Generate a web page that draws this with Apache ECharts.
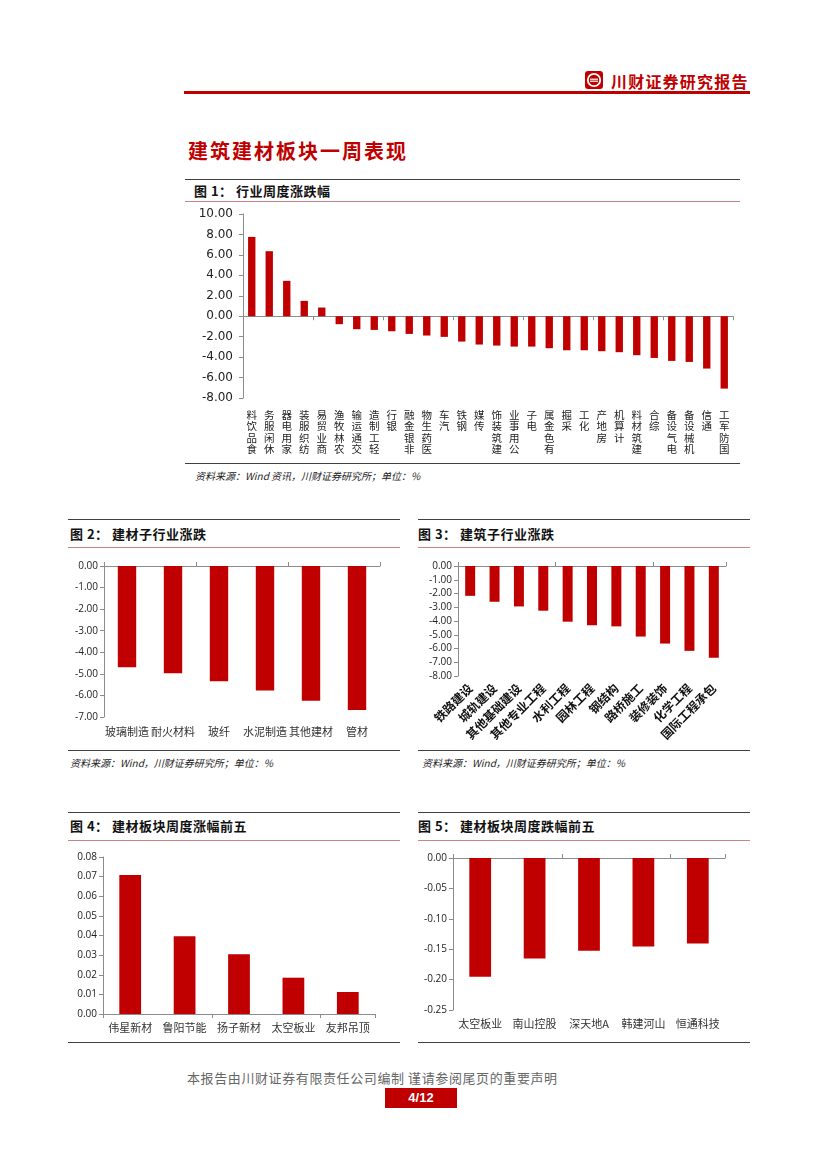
<!DOCTYPE html>
<html><head><meta charset="utf-8">
<script src="https://cdn.jsdelivr.net/npm/echarts@6/dist/echarts.min.js"></script>
<style>
html,body{margin:0;padding:0;background:#fff;}
body{width:827px;height:1169px;position:relative;overflow:hidden;font-family:"Noto Sans CJK SC","Noto Sans",sans-serif;}
.abs{position:absolute;}
.hline{position:absolute;height:0;}
.dark{border-top:1.5px solid #404040;}
.pink{border-top:1.5px solid #c98585;}
.ttl{position:absolute;font-size:13px;font-weight:bold;color:#111;white-space:nowrap;line-height:16px;letter-spacing:0.5px;}
.src{position:absolute;font-size:10px;font-style:italic;color:#222;white-space:nowrap;line-height:12px;}
.chart{position:absolute;}
</style></head>
<body>
<!-- header -->
<svg class="abs" style="left:585px;top:71px" width="18" height="18" viewBox="0 0 18 18">
<rect x="0" y="0" width="18" height="18" rx="3" fill="#c00000"/>
<circle cx="9" cy="9" r="6.2" fill="none" stroke="#fff" stroke-width="1.8"/>
<rect x="5" y="7.6" width="8" height="1.2" fill="#fff"/>
<rect x="5" y="9.6" width="8" height="1.2" fill="#fff"/>
</svg>
<div class="abs" style="left:611px;top:69px;font-size:16px;letter-spacing:1.2px;color:#c00000;font-weight:bold;white-space:nowrap;">川财证券研究报告</div>
<div class="abs" style="left:184px;top:91px;width:566px;height:3px;background:#c00000;"></div>

<div class="abs" style="left:188px;top:136px;font-size:20px;letter-spacing:2px;color:#c00000;font-weight:bold;white-space:nowrap;">建筑建材板块一周表现</div>

<!-- figure 1 -->
<div class="hline dark" style="left:185px;top:179px;width:555px;"></div>
<div class="ttl" style="left:194px;top:183px;">图 1：&nbsp;行业周度涨跌幅</div>
<div class="hline pink" style="left:185px;top:201px;width:555px;"></div>
<div id="c1" class="chart" style="left:180px;top:204px;width:560px;height:258px;"></div>
<div class="hline dark" style="left:185px;top:463px;width:555px;"></div>
<div class="src" style="left:195px;top:470px;">资料来源：Wind 资讯，川财证券研究所；单位：%</div>

<!-- figure 2 -->
<div class="hline dark" style="left:68px;top:519px;width:332px;"></div>
<div class="ttl" style="left:70px;top:526px;">图 2：&nbsp;建材子行业涨跌</div>
<div class="hline pink" style="left:68px;top:547px;width:332px;"></div>
<div id="c2" class="chart" style="left:68px;top:552px;width:332px;height:196px;"></div>
<div class="hline dark" style="left:68px;top:750px;width:332px;"></div>
<div class="src" style="left:70px;top:757px;">资料来源：Wind，川财证券研究所；单位：%</div>

<!-- figure 3 -->
<div class="hline dark" style="left:418px;top:519px;width:332px;"></div>
<div class="ttl" style="left:418px;top:526px;">图 3：&nbsp;建筑子行业涨跌</div>
<div class="hline pink" style="left:418px;top:547px;width:332px;"></div>
<div id="c3" class="chart" style="left:418px;top:552px;width:332px;height:196px;"></div>
<div class="hline dark" style="left:418px;top:750px;width:332px;"></div>
<div class="src" style="left:422px;top:757px;">资料来源：Wind，川财证券研究所；单位：%</div>

<!-- figure 4 -->
<div class="hline dark" style="left:68px;top:812px;width:332px;"></div>
<div class="ttl" style="left:70px;top:818px;">图 4：&nbsp;建材板块周度涨幅前五</div>
<div class="hline pink" style="left:68px;top:840px;width:332px;"></div>
<div id="c4" class="chart" style="left:68px;top:845px;width:332px;height:195px;"></div>
<div class="hline dark" style="left:68px;top:1042px;width:332px;"></div>

<!-- figure 5 -->
<div class="hline dark" style="left:418px;top:812px;width:332px;"></div>
<div class="ttl" style="left:418px;top:818px;">图 5：&nbsp;建材板块周度跌幅前五</div>
<div class="hline pink" style="left:418px;top:840px;width:332px;"></div>
<div id="c5" class="chart" style="left:418px;top:845px;width:332px;height:195px;"></div>
<div class="hline dark" style="left:418px;top:1042px;width:332px;"></div>

<!-- footer -->
<div class="abs" style="left:187px;top:1068px;width:410px;font-size:13px;color:#666;white-space:nowrap;letter-spacing:0.6px;">本报告由川财证券有限责任公司编制 谨请参阅尾页的重要声明</div>
<div class="abs" style="left:385px;top:1088px;width:72px;height:20px;background:#c00000;color:#fff;font-weight:bold;font-size:13px;line-height:20px;text-align:center;font-family:'Liberation Sans',Arial,sans-serif;">4/12</div>

<script>
// ---- data ----
var fig1Categories = ["食品饮料","休闲服务","家用电器","纺织服装","商业贸易","农林牧渔","交通运输","轻工制造","银行","非银金融","医药生物","汽车","钢铁","传媒","建筑装饰","公用事业","电子","有色金属","采掘","化工","房地产","计算机","建筑材料","综合","电气设备","机械设备","通信","国防军工"];
var fig1Values = [7.76,6.36,3.46,1.50,0.85,-0.78,-1.27,-1.34,-1.47,-1.73,-1.89,-2.02,-2.48,-2.77,-2.87,-2.97,-2.97,-3.13,-3.33,-3.33,-3.42,-3.52,-3.81,-4.08,-4.37,-4.47,-5.12,-7.08];

var fig2Categories = ["玻璃制造","耐火材料","玻纤","水泥制造","其他建材","管材"];
var fig2Values = [-4.69,-4.97,-5.34,-5.77,-6.25,-6.68];

var fig3Categories = ["铁路建设","城轨建设","其他基础建设","其他专业工程","水利工程","园林工程","钢结构","路桥施工","装修装饰","化学工程","国际工程承包"];
var fig3Values = [-2.17,-2.60,-2.94,-3.25,-4.05,-4.31,-4.39,-5.13,-5.64,-6.17,-6.67];

var fig4Categories = ["伟星新材","鲁阳节能","扬子新材","太空板业","友邦吊顶"];
var fig4Values = [0.0708,0.0396,0.0304,0.0185,0.0112];

var fig5Categories = ["太空板业","南山控股","深天地A","韩建河山","恒通科技"];
var fig5Values = [-0.1953,-0.1652,-0.1526,-0.1455,-0.1406];

// ---- styles ----
var RED = '#c00000';
var AXC = '#8c8c8c';

function makeChart(id, cats, vals, o) {
  var el = document.getElementById(id);
  var ch = echarts.init(el, null, {renderer:'canvas'});
  var zeroAxis = {
    type:'category', data:cats, position:o.zeroPos,
    axisLine:{show:true, onZero:true, lineStyle:{color:AXC, width:1}},
    axisTick:{show:true, alignWithLabel:false, length:4, lineStyle:{color:AXC}},
    axisLabel:{show:false}, splitLine:{show:false}
  };
  var labelAxis = {
    type:'category', data:cats, position:'bottom',
    axisLine:{show:false, onZero:false}, axisTick:{show:false},
    axisLabel:Object.assign({show:true, interval:0, color:'#222', fontSize:11,
      fontFamily:'"Noto Sans CJK SC", sans-serif'}, o.label),
    splitLine:{show:false}
  };
  ch.setOption({
    animation:false,
    grid:o.grid,
    xAxis:[zeroAxis, labelAxis],
    yAxis:{
      type:'value', min:o.min, max:o.max, interval:o.interval,
      axisLine:{show:true, lineStyle:{color:AXC}},
      axisTick:{show:true, length:4, lineStyle:{color:AXC}},
      splitLine:{show:false},
      axisLabel:Object.assign({color:'#222', fontSize:10, margin:6,
        fontFamily:'"Open Sans", "Liberation Sans", sans-serif',
        formatter:function(v){return v.toFixed(2);}}, o.ylabel||{})
    },
    series:[{type:'bar', data:vals, xAxisIndex:0, barCategoryGap:o.gap,
      itemStyle:{color:RED}}]
  });
}

makeChart('c1', fig1Categories, fig1Values, {
  grid:{left:63, right:7, top:10, bottom:64},
  zeroPos:'bottom', min:-8, max:10, interval:2, gap:'58%',
  ylabel:{fontSize:12, color:'#222', fontFamily:'"DejaVu Sans", sans-serif', margin:10},
  label:{fontSize:10.5, lineHeight:11.5, margin:11, color:'#222', verticalAlign:'top',
    formatter:function(v){return v.split('').reverse().join('\n');}}
});
makeChart('c2', fig2Categories, fig2Values, {
  grid:{left:36, right:20, top:14, bottom:31},
  zeroPos:'top', min:-7, max:0, interval:1, gap:'60%',
  label:{fontSize:11, margin:9, color:'#333'}
});
makeChart('c3', fig3Categories, fig3Values, {
  grid:{left:40, right:24, top:14, bottom:72},
  zeroPos:'top', min:-8, max:0, interval:1, gap:'59%',
  label:{fontSize:12, margin:10, rotate:45, color:'#111', fontWeight:'bold'}
});
makeChart('c4', fig4Categories, fig4Values, {
  grid:{left:35, right:25, top:12, bottom:26},
  zeroPos:'bottom', min:0, max:0.08, interval:0.01, gap:'60%',
  label:{fontSize:11, margin:8, color:'#333'}
});
makeChart('c5', fig5Categories, fig5Values, {
  grid:{left:35, right:25, top:13, bottom:30},
  zeroPos:'top', min:-0.25, max:0, interval:0.05, gap:'60%',
  label:{fontSize:11, margin:8, color:'#333'}
});
</script>
</body></html>
